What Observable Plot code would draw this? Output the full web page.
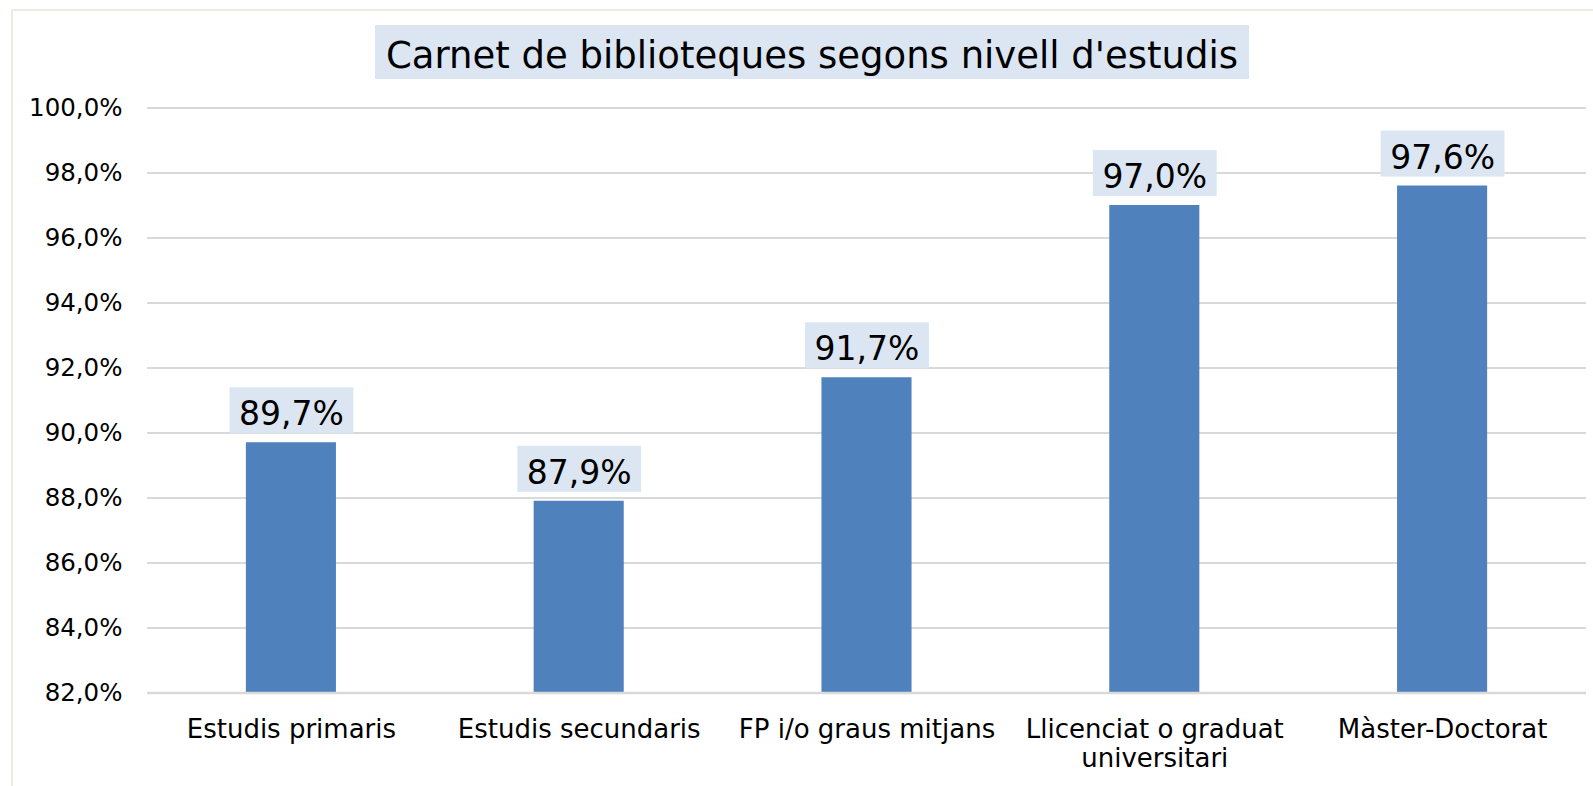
<!DOCTYPE html>
<html>
<head>
<meta charset="utf-8">
<script src="https://cdn.jsdelivr.net/npm/d3@7"></script>
<script src="https://cdn.jsdelivr.net/npm/@observablehq/plot@0.6"></script>
<style>
  html, body { margin: 0; padding: 0; background: #fff; overflow: hidden; }
  #wrap { position: relative; width: 1593px; height: 786px; font-family: "DejaVu Sans", Verdana, sans-serif; }
  #frame { position: absolute; left: 11px; top: 9px; width: 1700px; height: 900px; border: 2px solid #eeebe0; box-sizing: border-box; pointer-events: none; z-index: 5; }
  #titlebar { position: relative; height: 86px; }
  #title { position: absolute; left: 375px; top: 25px; width: 874px; height: 54px; box-sizing: border-box; padding-top: 8px; line-height: 46px;
           background: #dce6f2; font-size: 37px; color: #000; text-align: center; white-space: nowrap; }
</style>
</head>
<body>
<div id="wrap">
  <div id="titlebar"><div id="title">Carnet de biblioteques segons nivell d'estudis</div></div>
  <div id="chart"></div>
  <div id="frame"></div>
</div>
<script>
const categories = ["Estudis primaris", "Estudis secundaris", "FP i/o graus mitjans", "Llicenciat o graduat universitari", "Màster-Doctorat"];
const values = [89.7, 87.9, 91.7, 97.0, 97.6];
const yTicks = [82, 84, 86, 88, 90, 92, 94, 96, 98, 100];
const wrappedLabels = {"Llicenciat o graduat universitari": "Llicenciat o graduat\nuniversitari"};

const data = categories.map((c, i) => ({category: c, value: values[i]}));
const locale = d3.formatLocale({decimal: ",", thousands: ".", grouping: [3], currency: ["", "€"]});
const f1 = locale.format(".1f");
const fmtPct = v => f1(v) + "%";

const chart = Plot.plot({
  width: 1593,
  height: 700,
  marginTop: 21.5,
  marginBottom: 93.5,
  marginLeft: 147,
  marginRight: 7,
  style: {fontFamily: "DejaVu Sans, Verdana, sans-serif", background: "transparent", color: "#000", overflow: "visible"},
  x: {domain: categories, paddingInner: 0.687, paddingOuter: 0.3435, round: false, label: null, axis: null},
  y: {domain: [yTicks[0], yTicks[yTicks.length - 1]], label: null, axis: null},
  marks: [
    Plot.gridY(yTicks, {stroke: "#d9d9d9", strokeWidth: 2, strokeOpacity: 1}),
    Plot.barY(data, {x: "category", y1: yTicks[0], y2: "value", fill: "#4f81bd"}),
    Plot.ruleY([yTicks[0]], {stroke: "#d9d9d9", strokeWidth: 2.5}),
    Plot.axisY({ticks: yTicks, tickSize: 0, tickPadding: 25, tickFormat: fmtPct, fontSize: 24.5, label: null}),
    Plot.axisX({tickSize: 0, tickPadding: 25, fontSize: 26, lineHeight: 1.1, tickFormat: d => wrappedLabels[d] || d, label: null}),
    Plot.text(data, {x: "category", y: "value", text: d => fmtPct(d.value), dy: -28, fontSize: 33, fill: "#000"})
  ]
});
document.getElementById("chart").appendChild(chart);

// background boxes behind the data labels, sized from the rendered text
const svgNS = "http://www.w3.org/2000/svg";
chart.querySelectorAll('g[aria-label="text"] text').forEach(t => {
  const b = t.getBBox();
  const r = document.createElementNS(svgNS, "rect");
  r.setAttribute("x", b.x - 9.5);
  r.setAttribute("y", b.y - 7);
  r.setAttribute("width", b.width + 19);
  r.setAttribute("height", b.height + 7);
  r.setAttribute("fill", "#dce6f2");
  if (t.getAttribute("transform")) r.setAttribute("transform", t.getAttribute("transform"));
  t.parentNode.insertBefore(r, t);
});
</script>
</body>
</html>
